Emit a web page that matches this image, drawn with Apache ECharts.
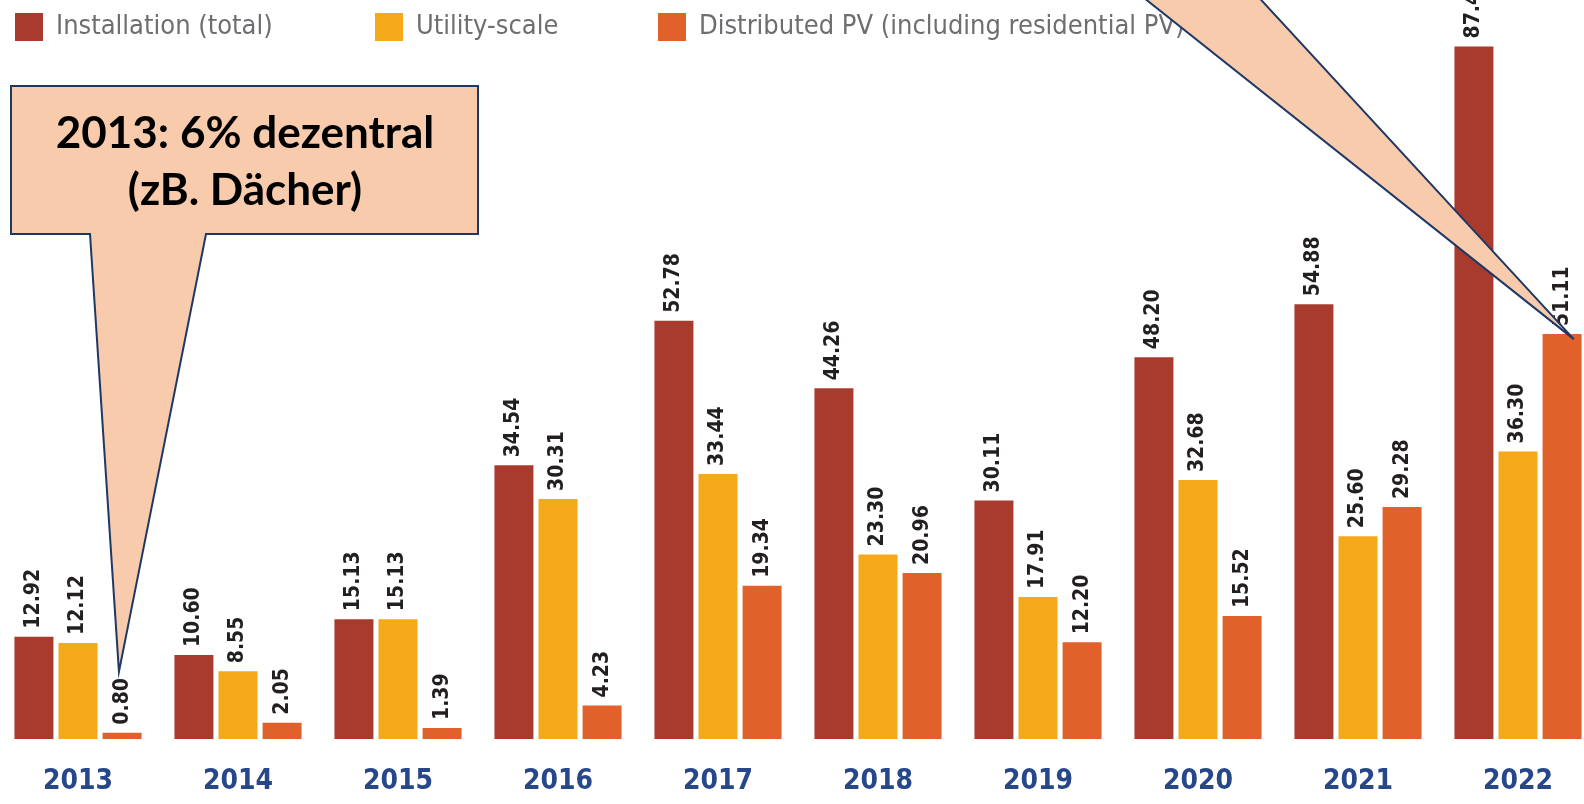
<!DOCTYPE html>
<html>
<head>
<meta charset="utf-8">
<script src="https://cdn.jsdelivr.net/npm/echarts@6/dist/echarts.min.js"></script>
<style>
  html, body { margin: 0; padding: 0; background: #fff; }
  #chart { width: 1584px; height: 804px; }
</style>
</head>
<body>
<div id="chart"></div>
<script>
  // data (GW per year)
  const years = ['2013', '2014', '2015', '2016', '2017', '2018', '2019', '2020', '2021', '2022']
  const totalInstall = [12.92, 10.60, 15.13, 34.54, 52.78, 44.26, 30.11, 48.20, 54.88, 87.41]
  const utilityScale = [12.12, 8.55, 15.13, 30.31, 33.44, 23.30, 17.91, 32.68, 25.60, 36.30]
  const distributedPV = [0.80, 2.05, 1.39, 4.23, 19.34, 20.96, 12.20, 15.52, 29.28, 51.11]
  const seriesNames = ['Installation (total)', 'Utility-scale', 'Distributed PV (including residential PV)']
  const calloutText = '2013: 6% dezentral\n(zB. Dächer)'

  const colors = ['#a83a2e', '#f6a81b', '#e0612a']
  const narrow = '"DejaVu Sans Condensed", "Liberation Sans Narrow", sans-serif'

  const valueLabel = {
    show: true,
    position: 'top',
    distance: 8,
    rotate: 90,
    align: 'left',
    verticalAlign: 'middle',
    fontFamily: narrow,
    fontWeight: 'bold',
    fontSize: 21,
    color: '#231f20',
    formatter: (p) => p.value.toFixed(2)
  }

  function makeSeries(name, data, color) {
    return {
      name: name,
      type: 'bar',
      data: data,
      barWidth: 39,
      barGap: '13%',
      itemStyle: { color: color },
      label: valueLabel,
      emphasis: { disabled: true }
    }
  }

  function makeLegend(name, left) {
    return {
      data: [name],
      left: left,
      top: 13,
      padding: 0,
      icon: 'rect',
      itemWidth: 28,
      itemHeight: 28,
      selectedMode: false,
      textStyle: {
        fontFamily: narrow,
        fontSize: 27,
        color: '#6d6e71',
        padding: [0, 0, 0, 8]
      }
    }
  }

  const chart = echarts.init(document.getElementById('chart'))
  chart.setOption({
    animation: false,
    backgroundColor: '#ffffff',
    legend: [
      makeLegend(seriesNames[0], 15),
      makeLegend(seriesNames[1], 375),
      makeLegend(seriesNames[2], 658)
    ],
    grid: { left: -2, width: 1600, top: 26, bottom: 65, outerBoundsMode: 'none', containLabel: false },
    xAxis: {
      type: 'category',
      data: years,
      axisLine: { show: false },
      axisTick: { show: false },
      axisLabel: {
        margin: 29,
        fontFamily: narrow,
        fontWeight: 'bold',
        fontSize: 28,
        color: '#26488a'
      }
    },
    yAxis: { type: 'value', min: 0, max: 90, show: false, splitLine: { show: false } },
    series: [
      makeSeries(seriesNames[0], totalInstall, colors[0]),
      makeSeries(seriesNames[1], utilityScale, colors[1]),
      makeSeries(seriesNames[2], distributedPV, colors[2])
    ]
  })

  // callouts: tips point at the laid-out bars
  const distData = chart.getModel().getSeriesByIndex(2).getData()
  function barTop(idx, fx) {
    const l = distData.getItemLayout(idx)
    return [l.x + l.width * fx, Math.min(l.y, l.y + l.height)]
  }
  // left tip stops just above the rotated "0.80" label
  const tipLeft = barTop(0, 0.42)
  tipLeft[1] -= 61
  const tipRight = barTop(9, 0.8)
  tipRight[1] += 5

  const calloutStyle = { fill: '#f8cbad', stroke: '#1f3864', lineWidth: 2, lineJoin: 'miter' }

  chart.setOption({
    graphic: [
      {
        type: 'polygon',
        z: 100,
        shape: {
          points: [[11, 86], [478, 86], [478, 234], [206, 234], tipLeft, [90, 234], [11, 234]]
        },
        style: calloutStyle
      },
      {
        type: 'text',
        z: 101,
        x: 245,
        y: 162,
        style: {
          text: calloutText,
          fontFamily: 'Lato, "Open Sans", sans-serif',
          fontWeight: 'bold',
          fontSize: 44,
          lineHeight: 57,
          fill: '#000',
          align: 'center',
          verticalAlign: 'middle'
        }
      },
      {
        type: 'polygon',
        z: 100,
        shape: {
          points: [[1134, -10], [1252, -10], tipRight]
        },
        style: calloutStyle
      }
    ]
  })
</script>
</body>
</html>
